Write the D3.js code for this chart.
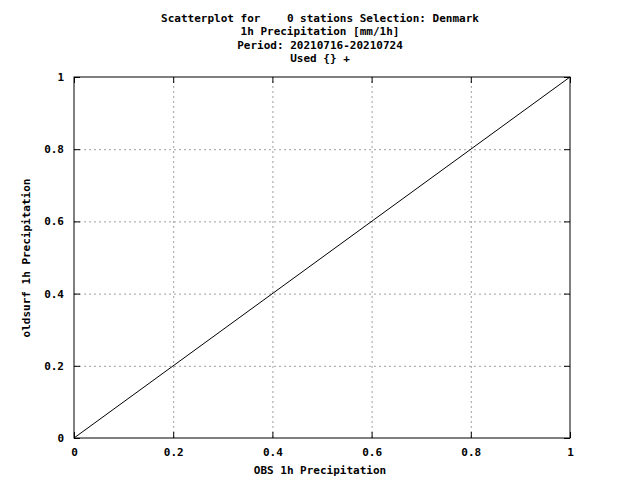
<!DOCTYPE html>
<html><head><meta charset="utf-8">
<script src="https://cdn.jsdelivr.net/npm/d3@7"></script>
<style>body{margin:0;background:#fff}text{font-family:"DejaVu Sans Mono",monospace;font-weight:bold;font-size:11px}</style>
</head><body><svg id="c" width="640" height="480"></svg>
<script>
const titleLines = ["Scatterplot for    0 stations Selection: Denmark", "1h Precipitation [mm/1h]", "Period: 20210716-20210724", "Used {} +"];
const xTicks = [0, 0.2, 0.4, 0.6, 0.8, 1];
const yTicks = [0, 0.2, 0.4, 0.6, 0.8, 1];
const diagonal = [[0, 0], [1, 1]];

const svg = d3.select("#c");
const x = d3.scaleLinear().domain([0, 1]).range([74, 570]);
const y = d3.scaleLinear().domain([0, 1]).range([438, 77]);

// grid
const g = svg.append("g").attr("stroke", "#a0a0a0").attr("stroke-dasharray", "2,3").attr("stroke-width", 1);
xTicks.slice(1, -1).forEach(t => g.append("line").attr("x1", x(t) + 0.5).attr("x2", x(t) + 0.5).attr("y1", y(0)).attr("y2", y(1)));
yTicks.slice(1, -1).forEach(t => g.append("line").attr("x1", x(0)).attr("x2", x(1)).attr("y1", y(t) + 0.5).attr("y2", y(t) + 0.5));

// axes with inward ticks on all sides
const fmt = d => d === 0 || d === 1 ? String(d) : d3.format(".1f")(d);
svg.append("g").attr("transform", `translate(0,${y(0)})`).call(d3.axisBottom(x).tickValues(xTicks).tickSize(-6).tickPadding(10).tickFormat(fmt));
svg.append("g").attr("transform", `translate(0,${y(1)})`).call(d3.axisTop(x).tickValues(xTicks).tickSize(-6).tickFormat(""));
svg.append("g").attr("transform", `translate(${x(0)},0)`).call(d3.axisLeft(y).tickValues(yTicks).tickSize(-6).tickPadding(10).tickFormat(fmt));
svg.append("g").attr("transform", `translate(${x(1)},0)`).call(d3.axisRight(y).tickValues(yTicks).tickSize(-6).tickFormat(""));
svg.selectAll(".domain").remove();
svg.selectAll(".tick text").attr("fill", "#000").style("font-size", "11px");
svg.append("rect").attr("x", x(0)).attr("y", y(1)).attr("width", x(1) - x(0)).attr("height", y(0) - y(1)).attr("fill", "none").attr("stroke", "#000");

// diagonal
svg.append("path").datum(diagonal).attr("fill", "none").attr("stroke", "#000")
  .attr("d", d3.line().x(d => x(d[0])).y(d => y(d[1])));

// titles
titleLines.forEach((t, i) => svg.append("text").attr("x", 320).attr("y", 22 + i * 13.3).attr("text-anchor", "middle").attr("xml:space", "preserve").text(t));
svg.append("text").attr("x", 320).attr("y", 474).attr("text-anchor", "middle").text("OBS 1h Precipitation");
svg.append("text").attr("transform", "translate(30,258) rotate(-90)").attr("text-anchor", "middle").text("oldsurf 1h Precipitation");
</script></body></html>
